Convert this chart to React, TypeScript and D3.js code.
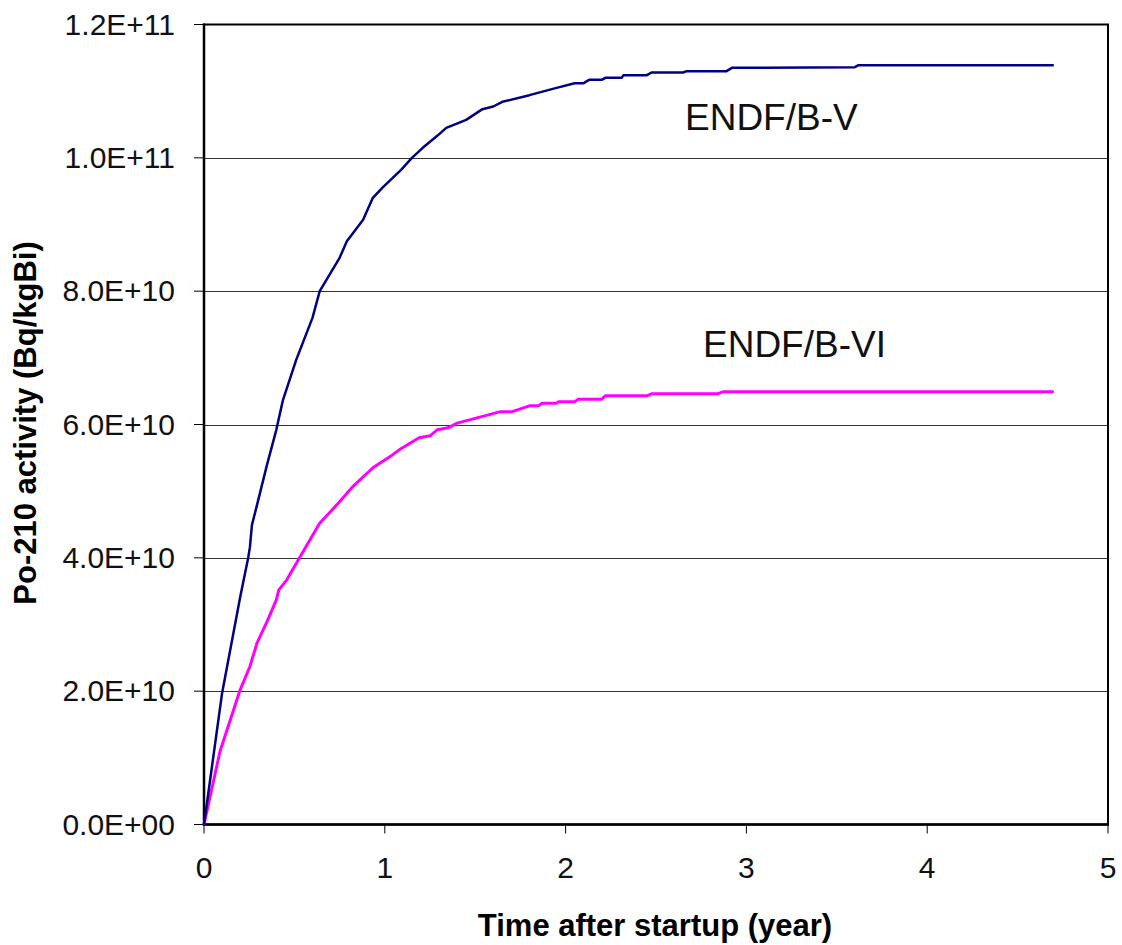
import React from "react";
import * as d3 from "d3";

// Data (time in years, activity in Bq/kgBi)
const endfB5Time = [0, 0.1, 0.2, 0.245, 0.254, 0.265, 0.293, 0.348, 0.4, 0.437, 0.51, 0.6, 0.64, 0.75, 0.79, 0.88, 0.934, 0.99, 1.09, 1.15, 1.21, 1.29, 1.34, 1.45, 1.54, 1.6, 1.65, 1.8, 1.95, 2.05, 2.1, 2.13, 2.2, 2.22, 2.31, 2.32, 2.45, 2.475, 2.65, 2.67, 2.89, 2.92, 3.6, 3.62, 4.7];
const endfB5Activity = [0, 1.97e10, 3.41e10, 4.01e10, 4.16e10, 4.49e10, 4.79e10, 5.39e10, 5.92e10, 6.37e10, 6.97e10, 7.6e10, 8.0e10, 8.5e10, 8.75e10, 9.07e10, 9.4e10, 9.56e10, 9.82e10, 1.0e11, 1.015e11, 1.033e11, 1.045e11, 1.057e11, 1.073e11, 1.077e11, 1.084e11, 1.094e11, 1.105e11, 1.112e11, 1.112e11, 1.117e11, 1.117e11, 1.12e11, 1.12e11, 1.124e11, 1.124e11, 1.128e11, 1.128e11, 1.13e11, 1.13e11, 1.135e11, 1.136e11, 1.139e11, 1.139e11];

const endfB6Time = [0, 0.088, 0.2, 0.254, 0.293, 0.348, 0.4, 0.414, 0.458, 0.53, 0.64, 0.75, 0.82, 0.934, 1.04, 1.08, 1.19, 1.25, 1.29, 1.35, 1.4, 1.51, 1.635, 1.7, 1.8, 1.85, 1.87, 1.95, 1.96, 2.05, 2.07, 2.2, 2.22, 2.45, 2.475, 2.84, 2.87, 4.7];
const endfB6Activity = [0, 1.09e10, 2.02e10, 2.37e10, 2.72e10, 3.04e10, 3.37e10, 3.52e10, 3.67e10, 4.01e10, 4.52e10, 4.84e10, 5.06e10, 5.35e10, 5.54e10, 5.62e10, 5.8e10, 5.83e10, 5.92e10, 5.95e10, 6.02e10, 6.1e10, 6.19e10, 6.19e10, 6.28e10, 6.28e10, 6.32e10, 6.32e10, 6.34e10, 6.34e10, 6.38e10, 6.38e10, 6.43e10, 6.43e10, 6.46e10, 6.46e10, 6.49e10, 6.49e10];

const xTicks = [0, 1, 2, 3, 4, 5];
const yTicks = [0, 2e10, 4e10, 6e10, 8e10, 1e11, 1.2e11];
const yTickLabels = ["0.0E+00", "2.0E+10", "4.0E+10", "6.0E+10", "8.0E+10", "1.0E+11", "1.2E+11"];

const W = 1122;
const H = 945;
const left = 204;
const right = 1108;
const top = 24.5;
const bottom = 824.5;

export default function App() {
  const x = d3.scaleLinear().domain([0, 5]).range([left, right]);
  const y = d3.scaleLinear().domain([0, 1.2e11]).range([bottom, top]);
  const line = d3
    .line<[number, number]>()
    .x((d) => x(d[0]))
    .y((d) => y(d[1]));
  const s5 = endfB5Time.map((t, i) => [t, endfB5Activity[i]] as [number, number]);
  const s6 = endfB6Time.map((t, i) => [t, endfB6Activity[i]] as [number, number]);
  const font = "Liberation Sans, Arial, Helvetica, sans-serif";

  return (
    <svg
      width={W}
      height={H}
      style={{ position: "absolute", left: 0, top: 0, background: "#fff" }}
      fontFamily={font}
    >
      <rect x={0} y={0} width={W} height={H} fill="#fff" />
      {/* gridlines */}
      {yTicks.slice(1, -1).map((v) => (
        <line key={"g" + v} x1={left} x2={right} y1={Math.round(y(v)) + 0.5} y2={Math.round(y(v)) + 0.5} stroke="#333" strokeWidth={1} />
      ))}
      {/* y ticks */}
      {yTicks.map((v, i) => (
        <g key={"yt" + v}>
          <line x1={left - 10} x2={left} y1={y(v)} y2={y(v)} stroke="#000" strokeWidth={1} />
          <text x={175} y={y(v) + 10} textAnchor="end" fontSize={30} fill="#111">
            {yTickLabels[i]}
          </text>
        </g>
      ))}
      {/* x ticks */}
      {xTicks.map((v) => (
        <g key={"xt" + v}>
          <line x1={x(v)} x2={x(v)} y1={bottom} y2={bottom + 9} stroke="#000" strokeWidth={1} />
          <text x={x(v)} y={878} textAnchor="middle" fontSize={30} fill="#111">
            {v}
          </text>
        </g>
      ))}
      {/* frame */}
      <rect x={left} y={top} width={right - left} height={bottom - top} fill="none" stroke="#000" strokeWidth={2} />
      <line x1={left} x2={left} y1={top - 1} y2={bottom + 1} stroke="#000" strokeWidth={2.5} />
      <line x1={left - 1} x2={right + 1} y1={bottom} y2={bottom} stroke="#000" strokeWidth={2.5} />
      {/* series */}
      <path d={line(s6) || ""} fill="none" stroke="#FF00FF" strokeWidth={3} strokeLinejoin="round" />
      <path d={line(s5) || ""} fill="none" stroke="#000080" strokeWidth={2.5} strokeLinejoin="round" />
      {/* labels */}
      <text x={685} y={130} fontSize={37} fill="#111">ENDF/B-V</text>
      <text x={703} y={357} fontSize={37} fill="#111">ENDF/B-VI</text>
      {/* axis titles */}
      <text x={655} y={936} textAnchor="middle" fontSize={31} fontWeight="bold" fill="#000">
        Time after startup (year)
      </text>
      <text
        transform={`translate(36, 423) rotate(-90)`}
        textAnchor="middle"
        fontSize={31}
        fontWeight="bold"
        fill="#000"
      >
        Po-210 activity (Bq/kgBi)
      </text>
    </svg>
  );
}
